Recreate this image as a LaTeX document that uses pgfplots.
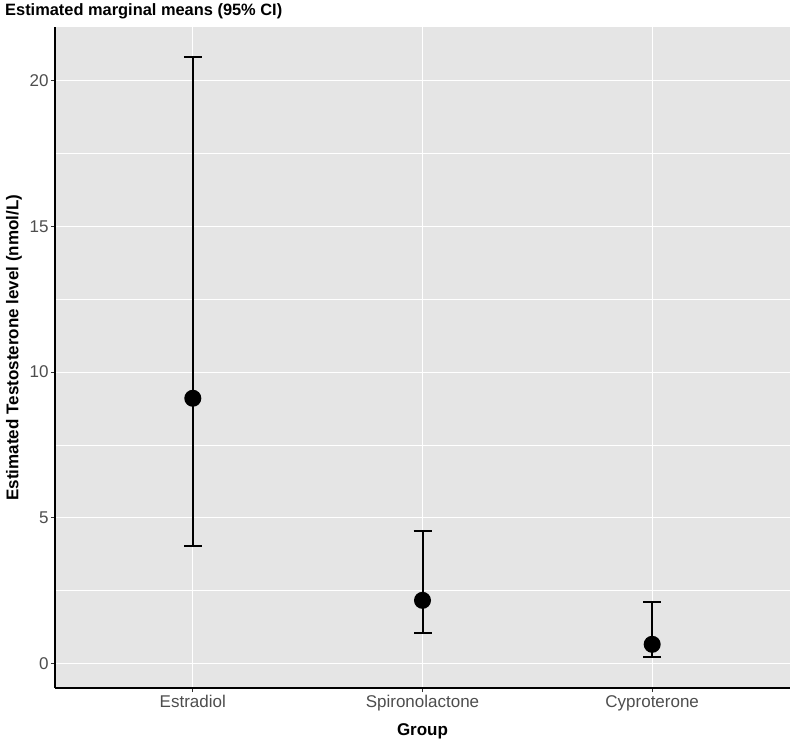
\documentclass[border=0pt]{standalone}
\usepackage{fontspec}
\setmainfont{Liberation Sans}
\usepackage{pgfplots}
\usepackage{pgfplotstable}
\pgfplotsset{compat=1.18}

\definecolor{panel}{HTML}{E5E5E5}
\definecolor{tickgrey}{HTML}{333333}
\definecolor{labelgrey}{HTML}{4D4D4D}

% estimated marginal means with 95% CI bounds
\pgfplotstableread{
x  mean  lower  upper
1  9.10  4.02   20.82
2  2.16  1.03   4.54
3  0.65  0.21   2.10
}\emmeans

\begin{document}
\begin{tikzpicture}
\begin{axis}[
    scale only axis,
    width=735pt, height=661pt,
    xmin=0.4, xmax=3.6,
    ymin=-0.85, ymax=21.85,
    axis background/.style={fill=panel},
    axis x line*=bottom, axis y line*=left,
    axis line style={line width=1.6pt, black},
    xtick={1,2,3},
    xticklabels={Estradiol,Spironolactone,Cyproterone},
    ytick={0,5,10,15,20},
    minor ytick={2.5,7.5,12.5,17.5},
    grid=both,
    major grid style={white, line width=1.1pt},
    minor grid style={white, line width=0.55pt},
    tick align=outside,
    major tick length=4pt, minor tick length=0pt,
    tick style={color=tickgrey, line width=1pt},
    ticklabel style={font=\fontsize{17}{20}\selectfont, text=labelgrey},
    yticklabel style={xshift=1pt},
    /pgf/number format/assume math mode=true,
    xlabel={Group},
    ylabel={Estimated Testosterone level (nmol/L)},
    every axis x label/.style={at={(rel axis cs:0.5,0)}, yshift=-43pt, anchor=center,
        font=\bfseries\fontsize{17}{20}\selectfont},
    every axis y label/.style={at={(rel axis cs:0,0.515)}, xshift=-41pt, rotate=90, anchor=center,
        font=\bfseries\fontsize{17}{20}\selectfont},
    clip=false,
]
\addplot[black, line width=2pt, only marks, mark=*, mark size=7.5pt,
    error bars/.cd, y dir=both, y explicit,
    error bar style={line width=2pt, black},
    error mark options={rotate=90, line width=2pt, mark size=9pt, black}]
    table[x=x, y=mean,
          y error plus expr=\thisrow{upper}-\thisrow{mean},
          y error minus expr=\thisrow{mean}-\thisrow{lower}] {\emmeans};
\coordinate (sw) at (rel axis cs:0,0);
\coordinate (ne) at (rel axis cs:1,1);
\coordinate (nw) at (rel axis cs:0,1);
\end{axis}
\node[anchor=base west, inner sep=0pt, font=\bfseries\fontsize{16.4}{19}\selectfont]
    at ([shift={(-50pt,11pt)}]nw) {Estimated marginal means (95\% CI)};
\pgfresetboundingbox
\path[use as bounding box] ([shift={(-55pt,-57pt)}]sw) rectangle ([shift={(3pt,27pt)}]ne);
\end{tikzpicture}
\end{document}
